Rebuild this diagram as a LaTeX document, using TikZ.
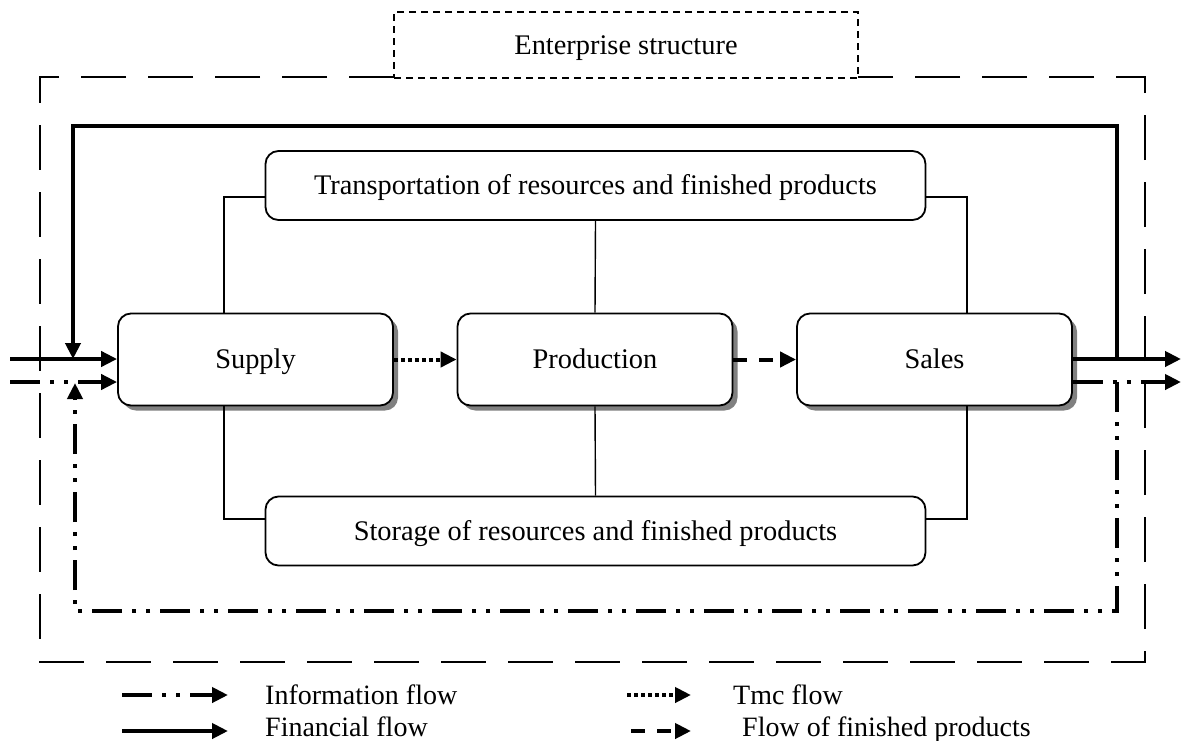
\documentclass[tikz,border=0pt]{standalone}
\usepackage{fontspec}
\setmainfont{Liberation Serif}
\usetikzlibrary{arrows.meta,shadows}
\begin{document}
\begin{tikzpicture}[x=1pt,y=-1pt,
  tip/.style={-{Triangle[length=16pt,width=15pt]}},
  txt/.style={font=\fontsize{28.4}{32}\selectfont,text height=22pt,text depth=4pt},
  mainbox/.style={txt,draw,line width=1.8pt,rounded corners=13pt,fill=white,
    minimum width=275pt,minimum height=92pt,
    drop shadow={shadow xshift=5pt,shadow yshift=-5pt,fill=black!50,opacity=1}},
  sidebox/.style={txt,draw,line width=1.8pt,rounded corners=13pt,fill=white,
    minimum width=660pt,minimum height=69pt},
  link/.style={line width=1.4pt},
  outerdash/.style={line width=2pt,dash pattern=on 45pt off 22pt},
  titledash/.style={line width=2pt,dash pattern=on 7pt off 5pt},
  infoflow/.style={line width=4pt,dash pattern=on 30pt off 10pt on 4pt off 10pt on 4pt off 10pt},
  finflow/.style={line width=4pt},
  tmcflow/.style={line width=4pt,dash pattern=on 4pt off 3pt},
  prodflow/.style={line width=4pt,dash pattern=on 14pt off 12pt},
  legtext/.style={anchor=base west,font=\fontsize{28}{32}\selectfont,inner sep=0pt}]
\useasboundingbox (0,0) rectangle (1181,740);

% enterprise border and its title
\draw[outerdash] (394,77) -- (40,77) -- (40,662) -- (1145,662) -- (1145,77) -- (858,77);
\node[txt,titledash,draw,fill=white,minimum width=464pt,minimum height=66pt]
  (title) at (626,45) {Enterprise structure};

% functional blocks
\node[mainbox] (supply) at (255.5,359.5) {Supply};
\node[mainbox] (production) at (595,359.5) {Production};
\node[mainbox] (sales) at (934.5,359.5) {Sales};
\node[sidebox] (transport) at (595.5,185.5) {Transportation of resources and finished products};
\node[sidebox] (storage) at (595.5,531) {Storage of resources and finished products};

% links to transport and storage
\draw[link] (supply.north -| 224,0) |- (transport.west |- 0,197);
\draw[link] (sales.north -| 967,0) |- (transport.east |- 0,197);
\draw[link] (production.north) -- (transport.south);
\draw[link] (supply.south -| 224,0) |- (storage.west |- 0,519);
\draw[link] (sales.south -| 967,0) |- (storage.east |- 0,519);
\draw[link] (production.south) -- (storage.north);

% flows between blocks
\draw[tmcflow,tip] (supply.east) -- (production.west);
\draw[prodflow,tip] (production.east) -- (sales.west);

% financial flow
\coordinate (finin) at (10,359);
\coordinate (finout) at (1181,359);
\coordinate (finr) at (1117,359);
\coordinate (finl) at (73,359);
\draw[finflow,tip] (finin) -- (supply.west |- finin);
\draw[finflow,tip] (sales.east |- finout) -- (finout);
\draw[finflow,tip] (finr) -- (1117,126) -- (73,126) -- (finl);

% information flow
\coordinate (infin) at (10,382);
\coordinate (infout) at (1181,382);
\coordinate (infr) at (1117,382);
\coordinate (infl) at (75,383);
\draw[infoflow,tip] (infin) -- (supply.west |- infin);
\draw[infoflow,tip] (sales.east |- infout) -- (infout);
\draw[infoflow,tip] (infr) -- (1117,611) -- (75,611) -- (infl);

% legend
\coordinate (l1a) at (122,695); \coordinate (l1b) at (228,695);
\coordinate (l2a) at (122,731); \coordinate (l2b) at (228,731);
\coordinate (l3a) at (627,695); \coordinate (l3b) at (691,695);
\coordinate (l4a) at (631,731); \coordinate (l4b) at (691,731);
\draw[infoflow,tip] (l1a) -- (l1b);
\draw[finflow,tip] (l2a) -- (l2b);
\draw[tmcflow,tip] (l3a) -- (l3b);
\draw[prodflow,tip] (l4a) -- (l4b);
\node[legtext] (t1) at (265,704) {Information flow};
\node[legtext] (t2) at (265,736) {Financial flow};
\node[legtext] (t3) at (733,704) {Tmc flow};
\node[legtext] (t4) at (742,736) {Flow of finished products};
\end{tikzpicture}
\end{document}
